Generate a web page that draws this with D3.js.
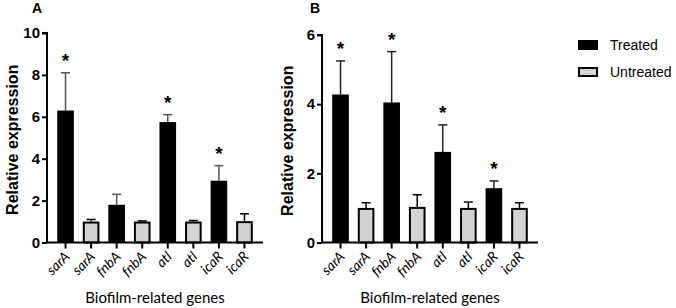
<!DOCTYPE html>
<html>
<head>
<meta charset="utf-8">
<script src="https://cdn.jsdelivr.net/npm/d3@7"></script>
<style>
  body { margin: 0; background: #fff; }
  svg { display: block; }
  .tick-num { font-family: "Liberation Sans", Arial, sans-serif; font-weight: bold; font-size: 15px; }
  .gene { font-family: Lato, "Open Sans", sans-serif; font-style: italic; font-size: 14px; }
  .xtitle { font-family: Lato, "Open Sans", sans-serif; font-size: 15px; }
  .ytitle { font-family: "Liberation Sans", Arial, sans-serif; font-weight: bold; font-size: 16px; }
  .panel { font-family: "Liberation Sans", Arial, sans-serif; font-weight: bold; font-size: 14px; }
  .legend { font-family: "Liberation Sans", Arial, sans-serif; font-size: 14px; }
</style>
</head>
<body>
<div id="chart"></div>
<script>
const genes = ["sarA", "sarA", "fnbA", "fnbA", "atl", "atl", "icaR", "icaR"];
const groups = ["Treated", "Untreated", "Treated", "Untreated", "Treated", "Untreated", "Treated", "Untreated"];

// panel A
const valuesA = [6.3, 1.0, 1.8, 1.0, 5.75, 1.0, 2.95, 1.02];
const errorsA = [1.8, 0.1, 0.5, 0.03, 0.35, 0.05, 0.72, 0.35];
const sigA = [true, false, false, false, true, false, true, false];
const ticksA = [0, 2, 4, 6, 8, 10];

// panel B
const valuesB = [4.28, 1.0, 4.05, 1.03, 2.62, 1.0, 1.57, 1.0];
const errorsB = [0.97, 0.15, 1.47, 0.35, 0.78, 0.17, 0.21, 0.15];
const sigB = [true, false, true, false, true, false, true, false];
const ticksB = [0, 2, 4, 6];

const legendItems = ["Treated", "Untreated"];

const width = 676, height = 308;
const svg = d3.select("#chart").append("svg")
    .attr("width", width)
    .attr("height", height);

const fillFor = g => g === "Treated" ? "#000" : "#d3d3d3";

function drawPanel(opts) {
    const { left, right, top, bottom, yMax, ticks, values, errors, sig, letter, errColor } = opts;
    const idx = genes.map((d, i) => i);

    const x = d3.scaleBand()
        .domain(idx)
        .range([left, right])
        .paddingInner(0.35)
        .paddingOuter(0.4);

    const y = d3.scaleLinear()
        .domain([0, yMax])
        .range([bottom, top]);

    const g = svg.append("g");

    // error bars (upper only)
    const eb = g.selectAll(".err")
        .data(idx)
        .enter()
        .append("g");
    eb.append("line")
        .attr("x1", i => x(i) + x.bandwidth() / 2)
        .attr("x2", i => x(i) + x.bandwidth() / 2)
        .attr("y1", i => y(values[i]))
        .attr("y2", i => y(values[i] + errors[i]))
        .attr("stroke", i => groups[i] === "Treated" ? errColor : "#000")
        .attr("stroke-width", 1.5);
    eb.append("line")
        .attr("x1", i => x(i) + x.bandwidth() / 2 - 4.5)
        .attr("x2", i => x(i) + x.bandwidth() / 2 + 4.5)
        .attr("y1", i => y(values[i] + errors[i]))
        .attr("y2", i => y(values[i] + errors[i]))
        .attr("stroke", i => groups[i] === "Treated" ? errColor : "#000")
        .attr("stroke-width", 1.5);

    // bars
    g.selectAll(".bar")
        .data(idx)
        .enter()
        .append("rect")
        .attr("x", i => x(i) + (groups[i] === "Treated" ? 0 : 1))
        .attr("y", i => y(values[i]) + (groups[i] === "Treated" ? 0 : 1))
        .attr("width", i => x.bandwidth() - (groups[i] === "Treated" ? 0 : 2))
        .attr("height", i => y(0) - y(values[i]) - (groups[i] === "Treated" ? 0 : 1))
        .attr("fill", i => fillFor(groups[i]))
        .attr("stroke", "#000")
        .attr("stroke-width", i => groups[i] === "Treated" ? 0 : 2);

    // significance stars
    g.selectAll(".star")
        .data(idx.filter(i => sig[i]))
        .enter()
        .append("text")
        .attr("x", i => x(i) + x.bandwidth() / 2)
        .attr("y", i => y(values[i] + errors[i]) - 6)
        .attr("text-anchor", "middle")
        .attr("font-family", "Liberation Sans, Arial, sans-serif")
        .attr("font-weight", "bold")
        .attr("font-size", "19px")
        .text("*");

    // y axis
    const yAxis = g.append("g")
        .attr("transform", `translate(${left},0)`)
        .call(d3.axisLeft(y).tickValues(ticks).tickFormat(d3.format("d")).tickSize(5).tickPadding(2));
    yAxis.select(".domain").attr("stroke-width", 2).attr("d", `M-5,${top}H0V${bottom}`);
    yAxis.selectAll(".tick line").attr("stroke-width", 2);
    yAxis.selectAll(".tick text").attr("class", "tick-num").attr("fill", "#000");

    // x axis
    const xAxis = g.append("g")
        .attr("transform", `translate(0,${bottom})`)
        .call(d3.axisBottom(x).tickSize(6).tickFormat(i => genes[i]));
    xAxis.select(".domain").attr("stroke-width", 2).attr("d", `M${left},0H${right}`);
    xAxis.selectAll(".tick line").attr("stroke-width", 2);
    xAxis.selectAll(".tick text")
        .attr("class", "gene")
        .attr("fill", "#000")
        .attr("text-anchor", "end")
        .attr("x", 0)
        .attr("y", 0)
        .attr("dy", 0)
        .attr("transform", "translate(5,15) rotate(-45)");

    // titles
    g.append("text")
        .attr("class", "ytitle")
        .attr("transform", `translate(${left - 29},${(top + bottom) / 2 + 2}) rotate(-90)`)
        .attr("text-anchor", "middle")
        .text("Relative expression");

    g.append("text")
        .attr("class", "xtitle")
        .attr("x", (left + right) / 2)
        .attr("y", 303)
        .attr("text-anchor", "middle")
        .text("Biofilm-related genes");

    g.append("text")
        .attr("class", "panel")
        .attr("x", letter.x)
        .attr("y", letter.y)
        .text(letter.t);
}

drawPanel({
    left: 47, right: 263, top: 33, bottom: 242.5, yMax: 10, ticks: ticksA,
    values: valuesA, errors: errorsA, sig: sigA, errColor: "#555",
    letter: { x: 32, y: 13, t: "A" }
});

drawPanel({
    left: 322, right: 538, top: 35, bottom: 242.5, yMax: 6, ticks: ticksB,
    values: valuesB, errors: errorsB, sig: sigB, errColor: "#222",
    letter: { x: 310, y: 13, t: "B" }
});

// legend
const legend = svg.append("g")
    .selectAll("g")
    .data(legendItems)
    .enter()
    .append("g")
    .attr("transform", (d, i) => `translate(578,${40 + i * 27})`);
legend.append("rect")
    .attr("x", d => d === "Treated" ? 0 : 1)
    .attr("y", d => d === "Treated" ? 0 : 1)
    .attr("width", d => d === "Treated" ? 20 : 18)
    .attr("height", d => d === "Treated" ? 10 : 8)
    .attr("fill", d => fillFor(d))
    .attr("stroke", "#000")
    .attr("stroke-width", d => d === "Treated" ? 0 : 2);
legend.append("text")
    .attr("class", "legend")
    .attr("x", 32)
    .attr("y", 10)
    .text(d => d);
</script>
</body>
</html>
